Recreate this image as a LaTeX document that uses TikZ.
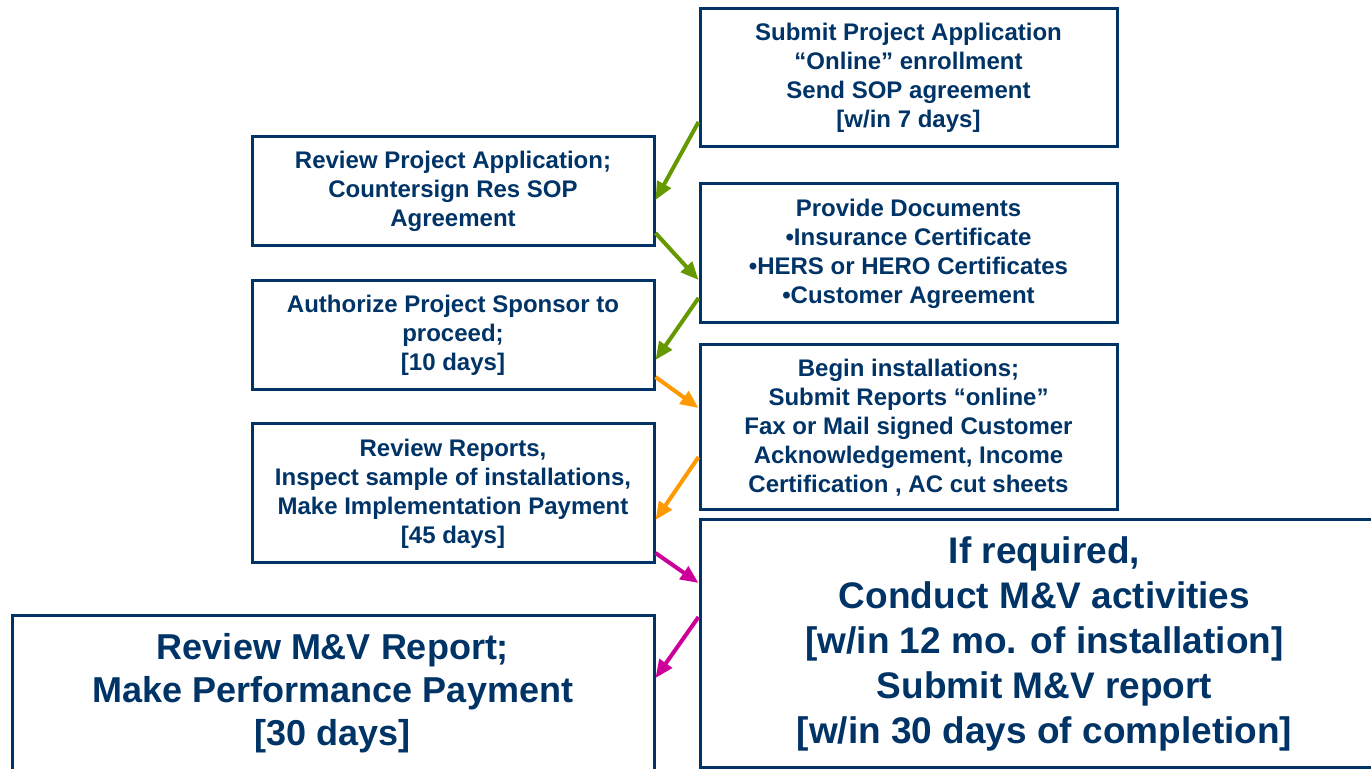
\documentclass[tikz,border=0pt]{standalone}
\usepackage{fontspec}
\setmainfont{Liberation Sans}
\usetikzlibrary{arrows.meta,calc}
\definecolor{navy}{RGB}{0,51,102}
\definecolor{leafgreen}{RGB}{102,153,0}
\definecolor{amber}{RGB}{255,153,0}
\definecolor{berry}{RGB}{204,0,153}

\begin{document}
\begin{tikzpicture}[x=0.5pt,y=-0.5pt,
    stepbox/.style={draw=navy, line width=1.5pt, text=navy, align=center, inner sep=0pt,
        font=\bfseries\fontsize{12}{14.5}\selectfont},
    bigbox/.style={stepbox, font=\bfseries\fontsize{18.5}{22.5}\selectfont},
    link/.style={line width=2pt, -{Triangle[length=9pt,width=7.5pt]}}]
            \clip (0,0) rectangle (1371,769);
            \fill[white] (0,0) rectangle (1371,769);

            % right column
            \node[stepbox, minimum width=208.5pt, minimum height=69pt] (r1) at (908.5,78)
                {Submit Project Application\\``Online'' enrollment\\Send SOP agreement\\{[w/in 7 days]}};
            \node[stepbox, minimum width=208.5pt, minimum height=69.5pt] (r2) at (908.5,253.5)
                {Provide Documents\\•Insurance Certificate\\•HERS or HERO Certificates\\•Customer Agreement};
            \node[stepbox, minimum width=208.5pt, minimum height=82.5pt] (r3) at (908.5,427.5)
                {Begin installations;\\Submit Reports ``online''\\Fax or Mail signed Customer\\Acknowledgement, Income\\Certification , AC cut sheets};
            \node[bigbox, minimum width=344.5pt, minimum height=123.5pt] (r4) at (1044.5,643.5)
                {If required,\\Conduct M\&V activities\\{[w/in 12 mo. of installation]}\\Submit M\&V report\\{[w/in 30 days of completion]}};

            % left column
            \node[stepbox, minimum width=201pt, minimum height=54.5pt] (l1) at (453,191.5)
                {Review Project Application;\\Countersign Res SOP\\Agreement};
            \node[stepbox, minimum width=201pt, minimum height=54.5pt] (l2) at (453,335.5)
                {Authorize Project Sponsor to\\proceed;\\{[10 days]}};
            \node[stepbox, minimum width=201pt, minimum height=69.5pt] (l3) at (453,493.5)
                {Review Reports,\\Inspect sample of installations,\\Make Implementation Payment\\{[45 days]}};
            \node[bigbox, font=\bfseries\fontsize{18}{21.5}\selectfont, minimum width=321pt, minimum height=77pt] (l4) at (333,693)
                {Review M\&V Report;\\Make Performance Payment\\{[30 days]}};

            % connectors
            \draw[link, leafgreen] ($(r1.west)+(0,44)$) -- ($(l1.east)+(0,8.5)$);
            \draw[link, leafgreen] ($(l1.east)+(0,41.5)$) -- ($(r2.west)+(0,26.5)$);
            \draw[link, leafgreen] ($(r2.west)+(0,44.5)$) -- ($(l2.east)+(0,24.5)$);
            \draw[link, amber] ($(l2.east)+(0,41.5)$) -- ($(r3.west)+(0,-19.5)$);
            \draw[link, amber] ($(r3.west)+(0,29.5)$) -- ($(l3.east)+(0,26.5)$);
            \draw[link, berry] ($(l3.east)+(0,59.5)$) -- ($(r4.west)+(0,-60.5)$);
            \draw[link, berry] ($(r4.west)+(0,-26.5)$) -- ($(l4.east)+(0,-15)$);
        \end{tikzpicture}
\end{document}
